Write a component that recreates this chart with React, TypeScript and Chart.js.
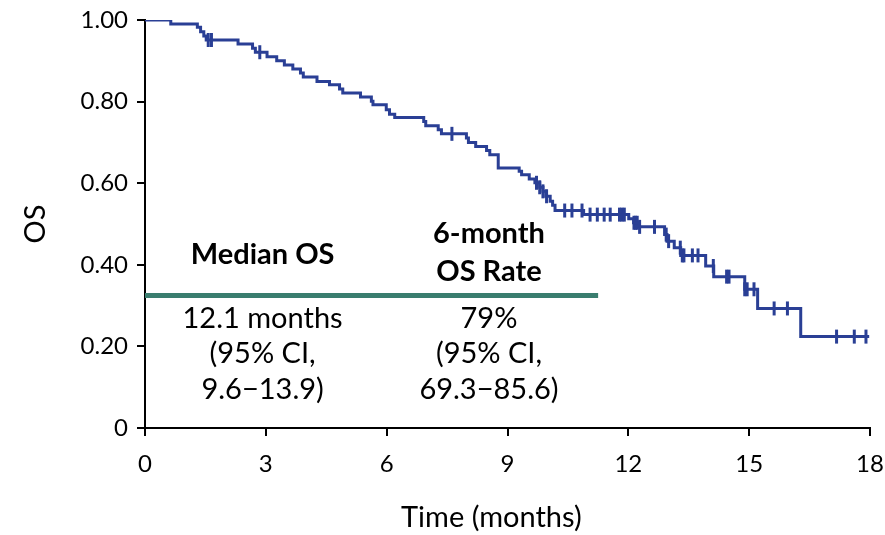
import React, { useEffect, useRef } from "react";
import { Chart, registerables } from "chart.js";

Chart.register(...registerables);

// Kaplan-Meier overall survival: event times (months) and survival after each event
const eventTimes = [
  0, 0.64, 1.3, 1.38, 1.46, 1.52, 2.31, 2.67, 2.74, 3.03, 3.27, 3.46, 3.67, 3.86,
  3.93, 4.27, 4.58, 4.83, 4.91, 5.35, 5.62, 5.66, 5.99, 6.07, 6.2, 6.92, 6.97,
  7.28, 7.36, 7.98, 8.03, 8.21, 8.48, 8.56, 8.77, 9.29, 9.35, 9.54, 9.68, 9.8,
  9.88, 9.95, 10.06, 10.12, 10.18, 10.89, 12.01, 12.13, 12.27, 12.9, 12.96,
  13.14, 13.3, 13.92, 14.12, 14.89, 15.21, 16.28, 17.98,
];
const survival = [
  1.0, 0.99, 0.982, 0.971, 0.961, 0.951, 0.941, 0.931, 0.921, 0.91, 0.9, 0.89,
  0.88, 0.87, 0.86, 0.849, 0.841, 0.831, 0.821, 0.811, 0.801, 0.792, 0.78, 0.769,
  0.761, 0.751, 0.741, 0.731, 0.721, 0.711, 0.7, 0.69, 0.68, 0.67, 0.637, 0.629,
  0.621, 0.61, 0.601, 0.59, 0.58, 0.568, 0.556, 0.546, 0.533, 0.523, 0.513,
  0.503, 0.493, 0.474, 0.458, 0.442, 0.423, 0.397, 0.371, 0.34, 0.293, 0.224,
  0.224,
];
// Censored observations (months)
const censorTimes = [
  1.57, 1.65, 2.85, 7.62, 9.72, 9.8, 9.88, 9.97, 10.42, 10.6, 10.85, 11.05,
  11.23, 11.4, 11.55, 11.78, 11.84, 11.9, 12.14, 12.18, 12.22, 12.28, 12.65,
  12.94, 13.0, 13.29, 13.34, 13.38, 13.59, 13.73, 14.11, 14.44, 14.5, 14.89,
  14.95, 15.12, 15.62, 15.95, 17.17, 17.61, 17.9,
];

const xTicks = [0, 3, 6, 9, 12, 15, 18];
const yTicks = [0, 0.2, 0.4, 0.6, 0.8, 1.0];
const yTickLabels = ["0", "0.20", "0.40", "0.60", "0.80", "1.00"];
const xTitle = "Time (months)";
const yTitle = "OS";

const medianHeader = ["Median OS"];
const medianLines = ["12.1 months", "(95% CI,", "9.6\u221213.9)"];
const rateHeader = ["6-month", "OS Rate"];
const rateLines = ["79%", "(95% CI,", "69.3\u221285.6)"];

// Divider under the summary table header: y level and end time
const dividerLevel = 0.325;
const dividerEnd = 11.25;

const NAVY = "#2a3f95";
const TEAL = "#3a7d6f";
const FONT = "Lato, 'Open Sans', sans-serif";

function survivalAt(t: number): number {
  let s = survival[0];
  for (let i = 0; i < eventTimes.length; i++) {
    if (eventTimes[i] <= t) s = survival[i];
  }
  return s;
}

// Summary table text and the time-axis title
const tablePlugin = {
  id: "osSummaryTable",
  afterDatasetsDraw(chart: any) {
    const { ctx } = chart;
    const x = chart.scales.x;
    const y = chart.scales.y;
    const leftX = x.getPixelForValue(2.92);
    const rightX = x.getPixelForValue(8.54);
    ctx.save();
    ctx.fillStyle = "#000";
    ctx.textAlign = "center";
    ctx.textBaseline = "middle";
    ctx.font = `bold 29px ${FONT}`;
    ctx.fillText(medianHeader[0], leftX, y.getPixelForValue(0.425));
    ctx.fillText(rateHeader[0], rightX, y.getPixelForValue(0.477));
    ctx.fillText(rateHeader[1], rightX, y.getPixelForValue(0.383));
    ctx.font = `29px ${FONT}`;
    const rows = [0.269, 0.183, 0.095];
    rows.forEach((lv, i) => {
      const py = y.getPixelForValue(lv);
      ctx.fillText(medianLines[i], leftX, py);
      ctx.fillText(rateLines[i], rightX, py);
    });
    ctx.font = `29px ${FONT}`;
    ctx.fillText(xTitle, x.getPixelForValue(8.6), x.bottom - 17);
    ctx.restore();
  },
};

export default function App() {
  const canvasRef = useRef<HTMLCanvasElement | null>(null);

  useEffect(() => {
    if (!canvasRef.current) return;
    const curve = eventTimes.map((t, i) => ({ x: t, y: survival[i] }));
    const censors = censorTimes.map((t) => ({ x: t, y: survivalAt(t) }));
    const divider = [
      { x: 0, y: dividerLevel },
      { x: dividerEnd, y: dividerLevel },
    ];

    const chart = new Chart(canvasRef.current, {
      type: "line",
      data: {
        datasets: [
          {
            data: divider,
            borderColor: TEAL,
            borderWidth: 5,
            pointRadius: 0,
            borderCapStyle: "butt",
          },
          {
            data: curve,
            stepped: "before",
            borderColor: NAVY,
            borderWidth: 3,
            pointRadius: 0,
          },
          {
            type: "scatter",
            data: censors,
            pointStyle: "line",
            rotation: 90,
            radius: 7,
            borderColor: NAVY,
            borderWidth: 3,
            showLine: false,
          } as any,
        ],
      },
      options: {
        responsive: false,
        animation: false,
        devicePixelRatio: 1,
        layout: { padding: { top: 20, right: 15, bottom: 0, left: 0 } },
        plugins: {
          legend: { display: false },
          tooltip: { enabled: false },
        },
        scales: {
          x: {
            type: "linear",
            min: 0,
            max: 18,
            afterBuildTicks: (scale: any) => {
              scale.ticks = xTicks.map((v) => ({ value: v }));
            },
            afterFit: (scale: any) => {
              scale.height = 107;
              scale.paddingLeft = 0;
              scale.paddingRight = 0;
            },
            ticks: {
              color: "#000",
              font: { family: FONT, size: 24 },
              padding: 14,
              maxRotation: 0,
              callback: (v: any) => String(v),
            },
            grid: {
              drawOnChartArea: false,
              drawTicks: true,
              tickLength: 8,
              color: "#000",
              lineWidth: 2,
            },
            border: { color: "#000", width: 2 },
            title: { display: false },
          },
          y: {
            type: "linear",
            min: 0,
            max: 1,
            afterBuildTicks: (scale: any) => {
              scale.ticks = yTicks.map((v) => ({ value: v }));
            },
            afterFit: (scale: any) => {
              scale.width = 145;
              scale.paddingTop = 0;
              scale.paddingBottom = 0;
            },
            ticks: {
              color: "#000",
              font: { family: FONT, size: 24 },
              padding: 9,
              callback: (_v: any, i: number) => yTickLabels[i],
            },
            grid: {
              drawOnChartArea: false,
              drawTicks: true,
              tickLength: 8,
              color: "#000",
              lineWidth: 2,
            },
            border: { color: "#000", width: 2 },
            title: {
              display: true,
              text: yTitle,
              color: "#000",
              font: { family: FONT, size: 29 },
              padding: { top: 18, bottom: 0 },
            },
          },
        },
      },
      plugins: [tablePlugin],
    } as any);

    return () => chart.destroy();
  }, []);

  return (
    <div style={{ position: "fixed", left: 0, top: 0, width: 885, height: 535, background: "#fff" }}>
      <canvas ref={canvasRef} width={885} height={535} />
    </div>
  );
}
